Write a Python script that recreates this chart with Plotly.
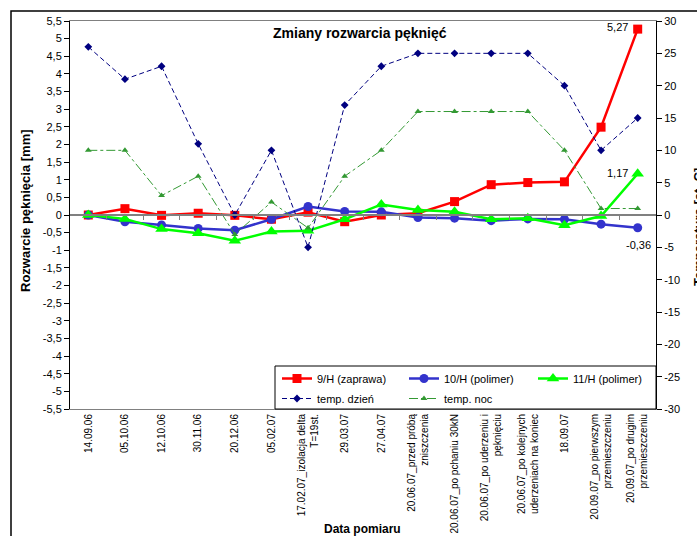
import plotly.graph_objects as go

categories = [
    "14.09.06", "05.10.06", "12.10.06", "30.11.06", "20.12.06", "05.02.07",
    "17.02.07_izolacja delta<br>T=19st.", "29.03.07", "27.04.07",
    "20.06.07_przed próbą<br>zniszczenia", "20.06.07_po pchaniu 30kN",
    "20.06.07_po uderzeniu i<br>pęknięciu",
    "20.06.07_po kolejnych<br>uderzeniach na koniec", "18.09.07",
    "20.09.07_po pierwszym<br>przemieszczeniu",
    "20.09.07_po drugim<br>przemieszczeniu",
]
h9 = [0.0, 0.18, -0.01, 0.05, -0.01, -0.12, 0.08, -0.19, 0.0, 0.05, 0.38, 0.86, 0.92, 0.94, 2.49, 5.27]
h10 = [0.0, -0.19, -0.28, -0.38, -0.43, -0.12, 0.24, 0.1, 0.09, -0.07, -0.09, -0.16, -0.11, -0.12, -0.26, -0.36]
h11 = [0.0, -0.11, -0.4, -0.52, -0.73, -0.47, -0.45, -0.12, 0.3, 0.14, 0.09, -0.12, -0.09, -0.29, -0.03, 1.17]
temp_day = [26, 21, 23, 11, 0, 10, -5, 17, 23, 25, 25, 25, 25, 20, 10, 15]
temp_night = [10, 10, 3, 6, -3, 2, -2, 6, 10, 16, 16, 16, 16, 10, 1, 1]

y_left_ticks = [-5.5, -5, -4.5, -4, -3.5, -3, -2.5, -2, -1.5, -1, -0.5, 0,
                0.5, 1, 1.5, 2, 2.5, 3, 3.5, 4, 4.5, 5, 5.5]
y_left_labels = ["-5,5", "-5", "-4,5", "-4", "-3,5", "-3", "-2,5", "-2", "-1,5", "-1", "-0,5", "0",
                 "0,5", "1", "1,5", "2", "2,5", "3", "3,5", "4", "4,5", "5", "5,5"]
y_right_ticks = [-30, -25, -20, -15, -10, -5, 0, 5, 10, 15, 20, 25, 30]
y_right_labels = ["-30", "-25", "-20", "-15", "-10", "-5", "0", "5", "10", "15", "20", "25", "30"]

x_idx = list(range(len(categories)))
boundaries = [i + 0.5 for i in x_idx[:-1]]

FONT = "Liberation Sans, Arial, sans-serif"
W_PLOT, H_PLOT, L, B_TOP = 586, 388, 70, 409

def px_x(p):
    return (p - L) / W_PLOT

def px_y(p):
    return (B_TOP - p) / H_PLOT

fig = go.Figure()

fig.add_trace(go.Scatter(
    x=x_idx, y=temp_day, name="temp. dzień", yaxis="y2", legend="legend4",
    mode="lines+markers",
    line=dict(color="#000080", width=1, dash="5px,3px"),
    marker=dict(symbol="diamond", size=6, color="#000080"),
))
fig.add_trace(go.Scatter(
    x=x_idx, y=temp_night, name="temp. noc", yaxis="y2", legend="legend5",
    mode="lines+markers",
    line=dict(color="#339933", width=1, dash="dashdot"),
    marker=dict(symbol="triangle-up", size=6, color="#339933"),
))
fig.add_trace(go.Scatter(
    x=x_idx, y=h9, name="9/H (zaprawa)", legend="legend",
    mode="lines+markers",
    line=dict(color="#FF0000", width=2.5),
    marker=dict(symbol="square", size=9, color="#FF0000"),
))
fig.add_trace(go.Scatter(
    x=x_idx, y=h10, name="10/H (polimer)", legend="legend2",
    mode="lines+markers",
    line=dict(color="#3333CC", width=2.5),
    marker=dict(symbol="circle", size=9, color="#3333CC"),
))
fig.add_trace(go.Scatter(
    x=x_idx, y=h11, name="11/H (polimer)", legend="legend3",
    mode="lines+markers",
    line=dict(color="#00FF00", width=2.5),
    marker=dict(symbol="triangle-up", size=11, color="#00FF00"),
))
# empty trace to host the zero-crossing category axis
fig.add_trace(go.Scatter(x=[], y=[], xaxis="x2", yaxis="y", showlegend=False, hoverinfo="skip"))

def fmt(v):
    return f"{v:.2f}".replace(".", ",")

annotations = [
    dict(x=x_idx[-1], y=h9[-1], xref="x", yref="y", text=fmt(h9[-1]), showarrow=False,
         xanchor="right", yanchor="middle", xshift=-8, yshift=2,
         font=dict(family=FONT, size=11, color="black")),
    dict(x=x_idx[-1], y=h11[-1], xref="x", yref="y", text=fmt(h11[-1]), showarrow=False,
         xanchor="right", yanchor="middle", xshift=-8, yshift=1,
         font=dict(family=FONT, size=11, color="black")),
    dict(x=x_idx[-1], y=h10[-1], xref="x", yref="y", text=fmt(h10[-1]), showarrow=False,
         xanchor="right", yanchor="middle", xshift=15, yshift=-17,
         font=dict(family=FONT, size=11, color="black")),
    dict(x=0.5, y=px_y(33), xref="paper", yref="paper", text="<b>Zmiany rozwarcia pęknięć</b>",
         showarrow=False, xanchor="center", yanchor="middle", xshift=-3,
         font=dict(family=FONT, size=14, color="black")),
    dict(x=px_x(25), y=px_y(211), xref="paper", yref="paper",
         text="<b>Rozwarcie pęknięcia [mm]</b>", textangle=-90, showarrow=False,
         xanchor="center", yanchor="middle",
         font=dict(family=FONT, size=13, color="black")),
    dict(x=px_x(698), y=px_y(227), xref="paper", yref="paper",
         text="<b>Temperatura [st. C]</b>", textangle=-90, showarrow=False,
         xanchor="center", yanchor="middle",
         font=dict(family=FONT, size=13, color="black")),
    dict(x=px_x(362), y=px_y(529), xref="paper", yref="paper",
         text="<b>Data pomiaru</b>", showarrow=False, xanchor="center", yanchor="middle",
         font=dict(family=FONT, size=12, color="black")),
]

shapes = [
    # outer chart border
    dict(type="rect", xref="paper", yref="paper",
         x0=px_x(11), x1=1.5, y0=-1.0, y1=px_y(11),
         line=dict(color="black", width=1.5), fillcolor="rgba(0,0,0,0)", layer="below"),
    # legend box
    dict(type="rect", xref="paper", yref="paper",
         x0=px_x(275), x1=1.0, y0=0.0, y1=px_y(366),
         line=dict(color="black", width=1), fillcolor="white", layer="above"),
]

def leg(xp, yp):
    return dict(
        orientation="v", x=px_x(xp), xanchor="left", y=px_y(yp), yanchor="top",
        bgcolor="rgba(0,0,0,0)", borderwidth=0,
        font=dict(family=FONT, size=11), itemwidth=30,
    )

fig.update_layout(
    width=697, height=536,
    margin=dict(l=70, r=41, t=21, b=127),
    paper_bgcolor="white", plot_bgcolor="white",
    font=dict(family=FONT, size=11, color="black"),
    showlegend=True,
    xaxis=dict(
        range=[-0.5, 15.5], tickvals=x_idx, ticktext=categories, tickangle=-90,
        tickfont=dict(family=FONT, size=10), ticks="", showgrid=False, zeroline=False,
        showline=True, linecolor="#808080", linewidth=1, mirror=True, automargin=False,
    ),
    xaxis2=dict(
        overlaying="x", anchor="free", position=0.5, range=[-0.5, 15.5],
        tickvals=boundaries, ticks="outside", ticklen=4, tickcolor="#808080",
        showticklabels=False, showgrid=False, zeroline=False,
        showline=True, linecolor="#808080", linewidth=1.5,
    ),
    yaxis=dict(
        range=[-5.5, 5.5], tickvals=y_left_ticks, ticktext=y_left_labels,
        ticks="outside", ticklen=5, tickcolor="black", showgrid=False, zeroline=False,
        showline=True, linecolor="black", linewidth=1, automargin=False,
        tickfont=dict(family=FONT, size=11),
    ),
    yaxis2=dict(
        range=[-30, 30], tickvals=y_right_ticks, ticktext=y_right_labels,
        overlaying="y", side="right", anchor="x",
        ticks="outside", ticklen=5, tickcolor="black", showgrid=False, zeroline=False,
        showline=True, linecolor="black", linewidth=1, automargin=False,
        tickfont=dict(family=FONT, size=11),
    ),
    legend=leg(277, 364),
    legend2=leg(404, 364),
    legend3=leg(533, 364),
    legend4=leg(277, 384),
    legend5=leg(404, 384),
    annotations=annotations,
    shapes=shapes,
)

fig.write_html("out.html", config={"displayModeBar": False},
               post_script="document.body.style.margin='0';")
